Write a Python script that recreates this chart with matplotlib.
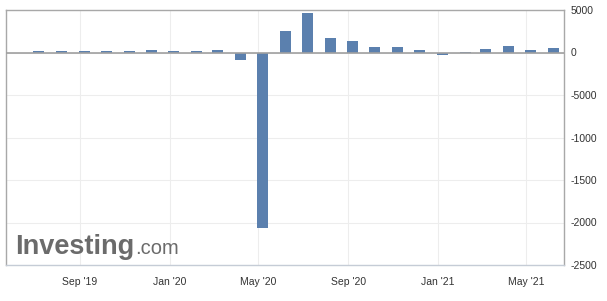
import matplotlib
matplotlib.use("Agg")
import matplotlib.pyplot as plt
import numpy as np
import pandas as pd

plt.rcParams['font.family'] = ['Liberation Sans', 'DejaVu Sans']

release_months = ["2019-07", "2019-08", "2019-09", "2019-10", "2019-11", "2019-12",
                  "2020-01", "2020-02", "2020-03", "2020-04", "2020-05", "2020-06",
                  "2020-07", "2020-08", "2020-09", "2020-10", "2020-11", "2020-12",
                  "2021-01", "2021-02", "2021-03", "2021-04", "2021-05", "2021-06"]
values = [150, 160, 130, 136, 128, 266, 145, 225, 273, -880, -20680, 2509,
          4700, 1650, 1371, 620, 600, 245, -250, 49, 379, 780, 266, 500]

x_tick_dates = ["2019-09-01", "2020-01-01", "2020-05-01", "2020-09-01", "2021-01-01", "2021-05-01"]
x_tick_labels = ["Sep '19", "Jan '20", "May '20", "Sep '20", "Jan '21", "May '21"]
y_tick_values = [5000, 0, -5000, -10000, -15000, -20000, -25000]
y_tick_labels = ["5000", "0", "-5000", "-1000", "-1500", "-2000", "-2500"]

W, H = 607, 301
fig = plt.figure(figsize=(W / 100, H / 100), dpi=100)
ax = fig.add_axes([6 / W, 1 - 265 / H, (564 - 6) / W, (265 - 10) / H])

dates = pd.to_datetime(release_months) + pd.Timedelta(days=6)
ax.bar(dates, values, width=15, color="#5b80ae", zorder=2)

ax.set_xlim(pd.Timestamp("2019-05-23"), pd.Timestamp("2021-06-22"))
ax.set_ylim(-25000, 5000)

ax.set_xticks(pd.to_datetime(x_tick_dates))
ax.set_xticklabels(x_tick_labels)
ax.set_yticks(y_tick_values)
ax.set_yticklabels(y_tick_labels)
ax.yaxis.tick_right()
ax.tick_params(axis='both', length=0, labelsize=7.5, colors="#333333")
ax.tick_params(axis='x', pad=8.5)
ax.tick_params(axis='y', pad=5)

ax.grid(True, color="#ededed", linewidth=0.8, zorder=0)
ax.axhline(0, color="#a0a0a0", linewidth=1.2, zorder=3)

for side in ["left", "top", "right"]:
    ax.spines[side].set_color("#a8a8a8")
    ax.spines[side].set_linewidth(1)
ax.spines["bottom"].set_color("#c5ccd6")
ax.spines["bottom"].set_linewidth(1)

# Watermark
t1 = fig.text(15 / W, 1 - 254 / H, "Investing", fontsize=19.5, fontweight="bold",
              color="#6b6b6b", ha="left", va="baseline")
fig.canvas.draw()
bb = t1.get_window_extent()
fig.text((bb.x1 + 1) / W, 1 - 254 / H, ".com", fontsize=14.5, color="#6b6b6b",
         ha="left", va="baseline")

fig.savefig("out.png", dpi=100)
